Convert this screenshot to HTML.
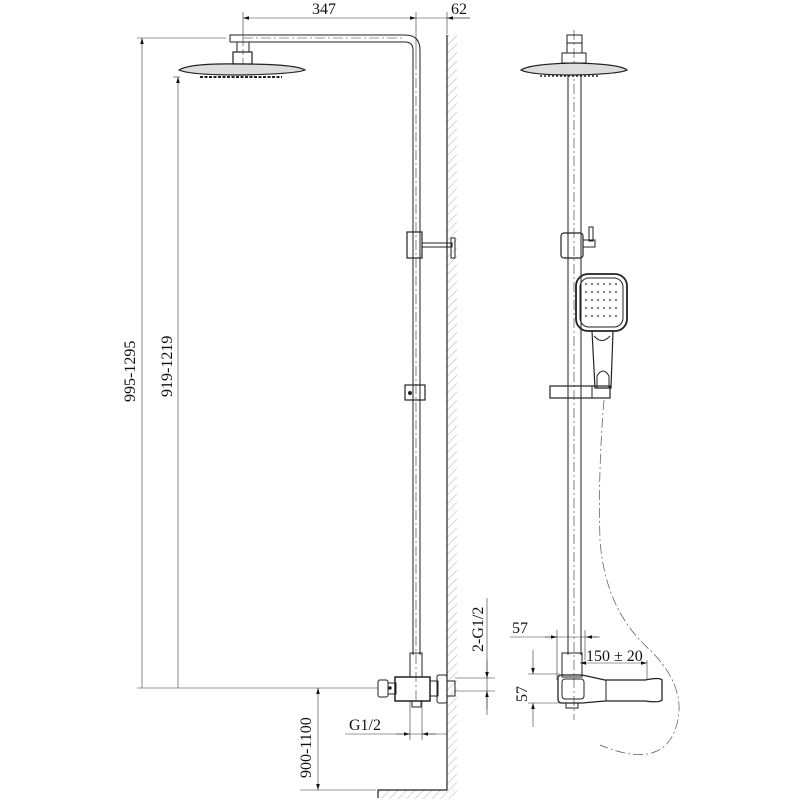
<!DOCTYPE html>
<html><head><style>html,body{margin:0;padding:0;background:#fff}svg{display:block}</style></head><body>
<svg width="800" height="800" viewBox="0 0 800 800" xmlns="http://www.w3.org/2000/svg" font-family="Liberation Serif, serif" fill="none" stroke="#222" stroke-width="1">
<defs>
<pattern id="h" width="6" height="6" patternUnits="userSpaceOnUse" patternTransform="rotate(45)"><line x1="0" y1="0" x2="0" y2="6" stroke="#999" stroke-width="0.8"/></pattern>
<marker id="a" viewBox="0 0 10 6" refX="10" refY="3" markerWidth="10" markerHeight="6" orient="auto-start-reverse"><path d="M0,0L10,3L0,6z" fill="#111" stroke="none"/></marker>
</defs>
<g stroke-width="0.6" stroke="#333">
<line x1="243" y1="12" x2="243" y2="40"/><line x1="416" y1="12" x2="416" y2="60"/><line x1="447" y1="12" x2="447" y2="34"/>
<line x1="243" y1="18" x2="416" y2="18" marker-start="url(#a)" marker-end="url(#a)"/>
<line x1="416" y1="18" x2="470" y2="18"/>
<line x1="470" y1="18" x2="447" y2="18" marker-end="url(#a)"/>
<line x1="137" y1="38" x2="226" y2="38"/><line x1="173" y1="77" x2="180" y2="77"/>
<line x1="137" y1="688" x2="378" y2="688"/>
<line x1="142" y1="38" x2="142" y2="688" marker-start="url(#a)"/>
<line x1="178" y1="77" x2="178" y2="688" marker-start="url(#a)"/>
<line x1="300" y1="790" x2="376" y2="790"/>
<line x1="318" y1="688" x2="318" y2="790" marker-start="url(#a)" marker-end="url(#a)"/>
<line x1="345" y1="734" x2="447" y2="734"/>
<line x1="396" y1="734" x2="410" y2="734" marker-end="url(#a)"/>
<line x1="436" y1="734" x2="422" y2="734" marker-end="url(#a)"/>
<line x1="410" y1="700" x2="410" y2="740"/><line x1="422" y1="700" x2="422" y2="740"/>
<line x1="455" y1="678" x2="495" y2="678"/><line x1="455" y1="691" x2="495" y2="691"/>
<line x1="487" y1="598" x2="487" y2="715"/>
<line x1="487" y1="660" x2="487" y2="678" marker-end="url(#a)"/>
<line x1="487" y1="709" x2="487" y2="691" marker-end="url(#a)"/>
<line x1="243" y1="38" x2="405" y2="38" stroke-dasharray="10 3 2 3"/>
<line x1="416" y1="60" x2="416" y2="700" stroke-dasharray="10 3 2 3"/>
<line x1="574" y1="30" x2="574" y2="720" stroke-dasharray="10 3 2 3"/>
<line x1="243" y1="40" x2="243" y2="78" stroke-dasharray="6 3"/>
</g>
<rect x="447" y="35" width="10" height="755" fill="url(#h)" stroke="none"/>
<rect x="378" y="790" width="79" height="9" fill="url(#h)" stroke="none"/>
<polyline points="447,35 447,790 378,790 378,798" stroke-width="1.2"/>
<path d="M230,42 V35 H405 Q420,35 420,50 V655 M413,655 V50 Q413,42 405,42 H230" stroke-width="1"/>
<rect x="237" y="42" width="12" height="10"/>
<rect x="233" y="52" width="19" height="12" stroke-width="1.2"/>
<path d="M179,70 Q190,63 240,64 Q295,64 305,70 Q295,74 240,75 Q190,75 179,70 Z" fill="#ddd" stroke-width="1.2"/>
<line x1="200" y1="77" x2="282" y2="77" stroke-dasharray="3 1.5" stroke-width="2"/>
<rect x="407" y="232" width="15" height="26" stroke-width="1.2"/>
<rect x="422" y="243" width="30" height="4"/>
<rect x="451" y="238" width="4" height="20"/>
<rect x="405" y="385" width="20" height="15" stroke-width="1.2"/>
<circle cx="410" cy="393" r="1.5" fill="#222"/>
<rect x="410" y="653" width="12" height="24"/>
<rect x="395" y="677" width="35" height="24" stroke-width="1.5"/>
<rect x="378" y="680" width="10" height="17" rx="2"/>
<rect x="388" y="683" width="8" height="11"/>
<circle cx="390" cy="688" r="1.2" fill="#222"/>
<rect x="430" y="681" width="8" height="15"/>
<rect x="437" y="675" width="10" height="28" rx="2"/>
<rect x="447" y="681" width="8" height="15"/>
<rect x="412" y="701" width="9" height="6"/>
<rect x="567" y="35" width="15" height="8"/>
<rect x="567" y="43" width="15" height="10"/>
<rect x="562" y="53" width="24" height="10"/>
<path d="M521,70 Q530,64 574,63 Q620,64 627,70 Q620,74 574,75 Q530,75 521,70 Z" fill="#ddd" stroke-width="1.2"/>
<line x1="540" y1="76" x2="600" y2="76" stroke-dasharray="2 2" stroke-width="1.5"/>
<line x1="568" y1="75" x2="568" y2="655"/><line x1="581" y1="75" x2="581" y2="655"/>
<rect x="561" y="233" width="22" height="25" rx="3" stroke-width="1.2"/>
<rect x="583" y="240" width="12" height="7"/>
<rect x="589" y="227" width="4" height="14"/>
<rect x="576" y="274" width="51" height="57" rx="12" stroke-width="1.8"/>
<rect x="580" y="278" width="43" height="49" rx="9"/>
<g fill="#555" stroke="none">
<circle cx="586" cy="284" r="1"/><circle cx="592" cy="284" r="1"/><circle cx="598" cy="284" r="1"/><circle cx="604" cy="284" r="1"/><circle cx="610" cy="284" r="1"/><circle cx="616" cy="284" r="1"/>
<circle cx="586" cy="292" r="1"/><circle cx="592" cy="292" r="1"/><circle cx="598" cy="292" r="1"/><circle cx="604" cy="292" r="1"/><circle cx="610" cy="292" r="1"/><circle cx="616" cy="292" r="1"/>
<circle cx="586" cy="300" r="1"/><circle cx="592" cy="300" r="1"/><circle cx="598" cy="300" r="1"/><circle cx="604" cy="300" r="1"/><circle cx="610" cy="300" r="1"/><circle cx="616" cy="300" r="1"/>
<circle cx="586" cy="308" r="1"/><circle cx="592" cy="308" r="1"/><circle cx="598" cy="308" r="1"/><circle cx="604" cy="308" r="1"/><circle cx="610" cy="308" r="1"/><circle cx="616" cy="308" r="1"/>
<circle cx="586" cy="316" r="1"/><circle cx="592" cy="316" r="1"/><circle cx="598" cy="316" r="1"/><circle cx="604" cy="316" r="1"/><circle cx="610" cy="316" r="1"/><circle cx="616" cy="316" r="1"/>
</g>
<path d="M592,331 L595,388 H611 L613,331" stroke-width="1.2"/>
<path d="M594,336 Q602,345 610,336"/>
<path d="M597,388 V376 Q603,366 609,376 V388"/>
<rect x="550" y="386" width="60" height="12" stroke-width="1.2"/>
<line x1="592" y1="386" x2="592" y2="398"/>
<path d="M604,400 Q598,470 600,540 Q605,610 650,650 Q690,690 675,730 Q660,770 600,745" stroke="#555" stroke-width="0.7" stroke-dasharray="10 3 2 3"/>
<rect x="562" y="653" width="20" height="24"/>
<path d="M558,678 Q558,675 562,675 H582 L605,680 H645 Q660,677 662,680 V700 Q660,703 645,701 H605 L582,703 H562 Q558,703 558,699 Z" stroke-width="1.3"/>
<rect x="562" y="679" width="22" height="20" rx="3"/>
<line x1="606" y1="680" x2="606" y2="701"/>
<rect x="566" y="703" width="12" height="5"/>
<g stroke-width="0.6" stroke="#333">
<line x1="510" y1="637" x2="600" y2="637"/>
<line x1="545" y1="637" x2="557" y2="637" marker-end="url(#a)"/>
<line x1="598" y1="637" x2="586" y2="637" marker-end="url(#a)"/>
<line x1="557" y1="630" x2="557" y2="680"/><line x1="585" y1="630" x2="585" y2="660"/>
<line x1="580" y1="663" x2="647" y2="663" marker-start="url(#a)" marker-end="url(#a)"/>
<line x1="647" y1="660" x2="647" y2="680"/>
<line x1="528" y1="674" x2="560" y2="674"/><line x1="528" y1="703" x2="560" y2="703"/>
<line x1="533" y1="650" x2="533" y2="674" marker-end="url(#a)"/>
<line x1="533" y1="727" x2="533" y2="703" marker-end="url(#a)"/>
</g>
<g fill="#111" stroke="none" font-size="16">
<text x="312" y="14">347</text>
<text x="451" y="14">62</text>
<text transform="translate(135,402) rotate(-90)">995-1295</text>
<text transform="translate(172,397) rotate(-90)">919-1219</text>
<text transform="translate(311,778) rotate(-90)">900-1100</text>
<text x="349" y="730">G1/2</text>
<text transform="translate(483,652) rotate(-90)">2-G1/2</text>
<text x="512" y="633">57</text>
<text x="586" y="661">150 ± 20</text>
<text transform="translate(527,702) rotate(-90)">57</text>
</g>
</svg>
</body></html>
